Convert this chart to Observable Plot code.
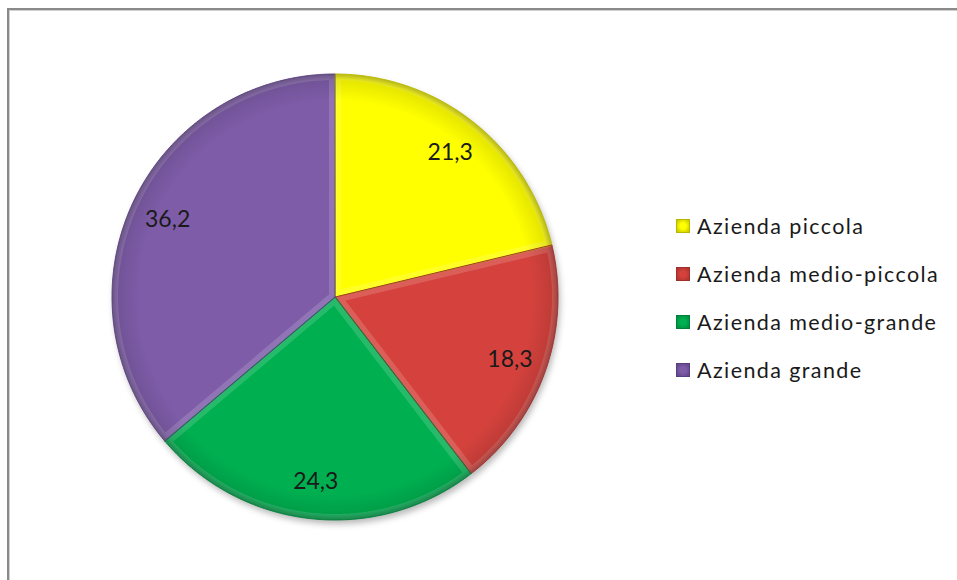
<!DOCTYPE html>
<html><head><meta charset="utf-8">
<script src="https://cdn.jsdelivr.net/npm/d3@7"></script>
<script src="https://cdn.jsdelivr.net/npm/@observablehq/plot@0.6"></script>
<style>
body{margin:0;background:#fff;}
#wrap{position:relative;width:957px;height:580px;overflow:hidden;background:#fff;font-family:Lato,"Open Sans",sans-serif;}
#frame{position:absolute;left:7px;top:8px;width:1000px;height:1000px;border-left:2px solid #8a8a8a;border-top:2px solid #8a8a8a;box-shadow:inset 1px 1px 0 #d0d0d0;}
#chart{position:absolute;left:0;top:0;}
#legend{position:absolute;left:676px;top:0;}
.item{position:absolute;left:0;height:28px;display:flex;align-items:center;white-space:nowrap;font-size:21.5px;letter-spacing:1.4px;color:#1a1a1a;}
.sw{width:14px;height:14px;margin-right:7px;box-sizing:border-box;}
</style></head><body>
<div id="wrap"><div id="frame"></div><div id="chart"></div><div id="legend"></div></div>
<script>
const categories = ["Azienda piccola", "Azienda medio-piccola", "Azienda medio-grande", "Azienda grande"];
const values = [21.3, 18.3, 24.3, 36.2];
const valueLabels = ["21,3", "18,3", "24,3", "36,2"];
const colors = ["#ffff00", "#d5423d", "#00b050", "#7e5ca8"];
const rimColors = ["#b8b800", "#a02f2b", "#00803a", "#5a3f80"];

const cx = 335, cy = 297, R = 223;
const arcs = d3.pie().sort(null).value(d => d)(values);

// arc points of each slice on the unit circle (y up); the area closes to the centre
const slices = arcs.map((a, i) => {
  const n = Math.max(8, Math.ceil((a.endAngle - a.startAngle) / 0.01));
  const pts = [];
  for (let k = 0; k <= n; k++) {
    const t = a.startAngle + (a.endAngle - a.startAngle) * k / n;
    pts.push({x: Math.sin(t), y: Math.cos(t), cat: categories[i]});
  }
  return pts;
});
const labelPts = arcs.map((a, i) => {
  const m = (a.startAngle + a.endAngle) / 2;
  return {x: 0.83 * Math.sin(m), y: 0.83 * Math.cos(m), label: valueLabels[i]};
});

const chart = Plot.plot({
  width: 957, height: 580,
  marginLeft: 0, marginRight: 0, marginTop: 0, marginBottom: 0,
  x: {domain: [-1, 1], range: [cx - R, cx + R], axis: null},
  y: {domain: [-1, 1], range: [cy + R, cy - R], axis: null},
  marks: [
    ...slices.map(s => Plot.area(s, {x1: "x", y1: "y", x2: 0, y2: 0, fill: "#000", fillOpacity: 0.28})),
    ...slices.map((s, i) => Plot.area(s, {x1: "x", y1: "y", x2: 0, y2: 0, fill: colors[i]})),
    ...slices.map(s => Plot.area(s, {x1: "x", y1: "y", x2: 0, y2: 0, fill: "#000"})),
    ...slices.map((s, i) => Plot.area(s, {x1: "x", y1: "y", x2: 0, y2: 0, fill: "none", stroke: rimColors[i], strokeWidth: 1, strokeOpacity: 0.9})),
    Plot.text(labelPts, {x: "x", y: "y", text: "label", fontSize: 23, fill: "#1a1a1a", fontFamily: "Lato, 'Open Sans', sans-serif"})
  ]
});
document.getElementById("chart").appendChild(chart);

// shading: shadow blur, rim darkening, bevel highlight
const svg = d3.select(chart);
const groups = chart.querySelectorAll(":scope > g");
const defs = svg.insert("defs", ":first-child");
const px = chart.scale("x").apply(0), py = chart.scale("y").apply(0);
const pr = chart.scale("x").apply(1) - px;
const rg = defs.append("radialGradient").attr("id", "rimg").attr("gradientUnits", "userSpaceOnUse")
  .attr("cx", px).attr("cy", py).attr("r", pr);
rg.append("stop").attr("offset", "0.88").attr("stop-color", "#000").attr("stop-opacity", 0);
rg.append("stop").attr("offset", "0.975").attr("stop-color", "#000").attr("stop-opacity", 0.1);
rg.append("stop").attr("offset", "1").attr("stop-color", "#000").attr("stop-opacity", 0.28);
const f = defs.append("filter").attr("id", "blur").attr("x", "-10%").attr("y", "-10%").attr("width", "120%").attr("height", "120%");
f.append("feGaussianBlur").attr("stdDeviation", 3);
groups.forEach((g, k) => {
  const kind = Math.floor(k / categories.length);
  if (kind === 0) d3.select(g).attr("filter", "url(#blur)").attr("transform", "translate(2,4)");
  if (kind === 2) { d3.select(g).attr("fill", "url(#rimg)"); d3.select(g).selectAll("path").attr("fill", "url(#rimg)"); }
  if (kind === 1) {
    const p = g.querySelector("path");
    if (!p) return;
    const d = p.getAttribute("d"), id = "clipS" + k;
    defs.append("clipPath").attr("id", id).append("path").attr("d", d);
    d3.select(g).append("path").attr("d", d).attr("fill", "none")
      .attr("stroke", "#fff").attr("stroke-opacity", 0.15).attr("stroke-width", 12)
      .attr("stroke-linejoin", "round").attr("clip-path", `url(#${id})`);
  }
});

const legend = d3.select("#legend");
categories.forEach((c, i) => {
  const it = legend.append("div").attr("class", "item").style("top", (212 + i * 48) + "px");
  it.append("div").attr("class", "sw")
    .style("background", `radial-gradient(circle, ${colors[i]} 35%, ${rimColors[i]} 110%)`)
    .style("border", `1px solid ${rimColors[i]}`);
  it.append("span").text(c);
});
</script>
</body></html>
